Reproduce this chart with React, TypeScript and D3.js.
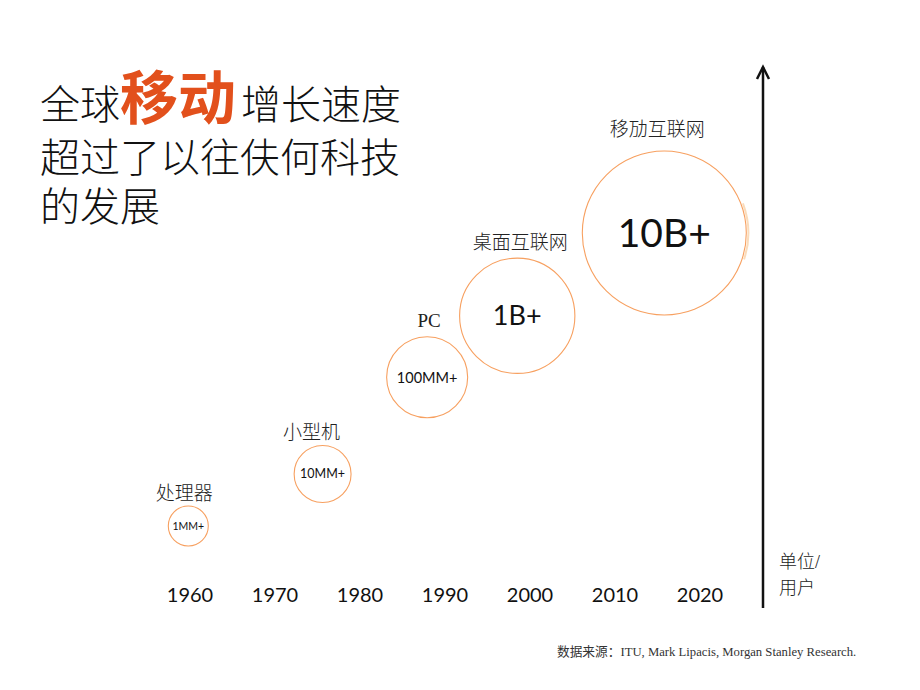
import React from 'react';
import * as d3 from 'd3';

// ---- data ----
const years = ['1960', '1970', '1980', '1990', '2000', '2010', '2020'];
const categories = ['处理器', '小型机', 'PC', '桌面互联网', '移劢互联网'];
const valueLabels = ['1MM+', '10MM+', '100MM+', '1B+', '10B+'];
const usersMM = [1, 10, 100, 1000, 10000];
const bubbleYear = [1959.8, 1975.6, 1987.9, 1998.5, 2015.8];
const bubbleLevel = [0, 0.71, 2.03, 2.87, 4.0];
const titleLines = [['全球', '移动', '增长速度'], ['超过了以往伕何科技'], ['的发展']];
const unitLabel = ['单位/', '用户'];
const sourceText = '数据来源：ITU, Mark Lipacis, Morgan Stanley Research.';

// ---- layout / styles ----
const W = 920;
const H = 690;
const valueFontSize = [10.5, 12.5, 14.5, 27, 39];
const labelDx = [-4, -11, 2, 3, -7];
const labelGap = [6, 7, 10, 9, 15];
const ORANGE = '#F7A060';
const RED = '#E2501C';

export default function App() {
  const x = d3.scaleLinear().domain([1960, 2020]).range([190, 700]);
  const y = d3.scaleLinear().domain([0, 4]).range([526, 233]);
  const r = d3.scalePow().exponent(0.153).domain([1, 10000]).range([20, 82]);

  const bubbles = categories.map((c, i) => ({
    cat: c,
    label: valueLabels[i],
    cx: x(bubbleYear[i]),
    cy: y(bubbleLevel[i]),
    r: r(usersMM[i]),
    i,
  }));

  const big = bubbles[4];
  const glow = d3.arc()({
    innerRadius: big.r + 1,
    outerRadius: big.r + 3,
    startAngle: Math.PI / 2 - 0.36,
    endAngle: Math.PI / 2 + 0.32,
  } as any) as string;

  const axisX = 763;
  const cjk = "'Noto Sans CJK SC', sans-serif";
  const serif = "'Liberation Serif', 'Noto Sans CJK SC', serif";
  const latin = "Lato, 'Open Sans', sans-serif";

  return (
    <svg
      width={W}
      height={H}
      viewBox={`0 0 ${W} ${H}`}
      style={{ position: 'absolute', left: 0, top: 0, background: '#fff' }}
    >
      <rect x={0} y={0} width={W} height={H} fill="#fff" />
      {/* title */}
      <g fontFamily={cjk} fill="#111" fontWeight={300}>
        <text x={40} y={119} fontSize={40}>
          <tspan>{titleLines[0][0]}</tspan>
          <tspan fontSize={58} fontWeight={700} fill={RED}>{titleLines[0][1]}</tspan>
          <tspan dx={5}>{titleLines[0][2]}</tspan>
        </text>
        <text x={40} y={172} fontSize={40}>{titleLines[1][0]}</text>
        <text x={40} y={221} fontSize={40}>{titleLines[2][0]}</text>
      </g>

      {/* bubbles */}
      {bubbles.map((b) => (
        <g key={b.cat}>
          <circle cx={b.cx} cy={b.cy} r={b.r} fill="none" stroke={ORANGE} strokeWidth={1.1} />
          <text
            x={b.cx}
            y={b.cy}
            dy="0.36em"
            textAnchor="middle"
            fontFamily={latin}
            fontSize={valueFontSize[b.i]}
            fill="#111"
          >
            {b.label}
          </text>
          <text
            x={b.cx + labelDx[b.i]}
            y={b.cy - b.r - labelGap[b.i]}
            textAnchor="middle"
            fontFamily={serif}
            fontWeight={300}
            fontSize={19}
            fill="#222"
          >
            {b.cat}
          </text>
        </g>
      ))}
      <path d={glow} transform={`translate(${big.cx},${big.cy})`} fill="#F6C48E" opacity={0.6} />

      {/* year axis labels */}
      {years.map((yr) => (
        <text
          key={yr}
          x={x(+yr)}
          y={602}
          textAnchor="middle"
          fontFamily={latin}
          fontSize={20}
          fill="#111"
        >
          {yr}
        </text>
      ))}

      {/* vertical arrow */}
      <line x1={axisX} y1={608} x2={axisX} y2={67} stroke="#111" strokeWidth={2.5} />
      <path
        d={`M${axisX - 6},${79} L${axisX},${67} L${axisX + 6},${79}`}
        fill="none"
        stroke="#111"
        strokeWidth={2.5}
        strokeLinejoin="miter"
      />
      <g fontFamily={serif} fontSize={18} fill="#222" fontWeight={300}>
        <text x={779} y={568}>{unitLabel[0]}</text>
        <text x={779} y={594}>{unitLabel[1]}</text>
      </g>

      {/* source */}
      <text x={557} y={656} fontFamily={serif} fontSize={12.7} fill="#333">
        {sourceText}
      </text>
    </svg>
  );
}
